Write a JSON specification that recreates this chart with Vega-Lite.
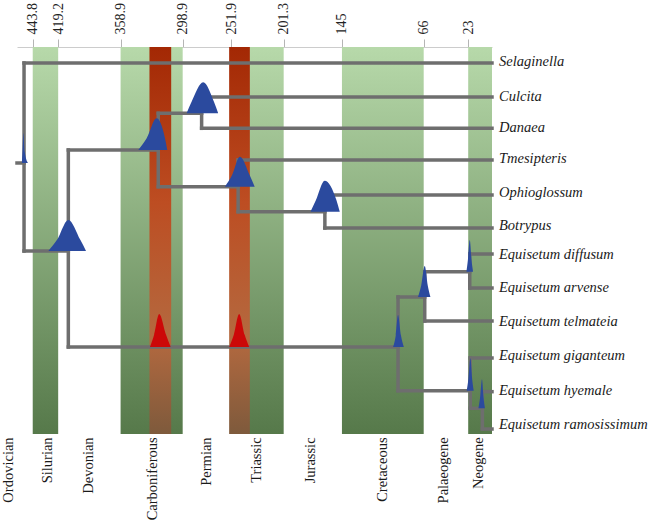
{
  "$schema": "https://vega.github.io/schema/vega-lite/v6.json",
  "autosize": "none",
  "width": 475,
  "height": 387,
  "padding": {"left": 17, "top": 47, "right": 160, "bottom": 89},
  "background": "white",
  "config": {"view": {"stroke": null}},
  "datasets": {
    "bands": [
      {"x": 443.8, "x2": 419.2},
      {"x": 358.9, "x2": 298.9},
      {"x": 251.9, "x2": 201.3},
      {"x": 145, "x2": 66},
      {"x": 23, "x2": 0}
    ],
    "periodLabels": [
      {"name": "Ordovician", "x": 466.4},
      {"name": "Silurian", "x": 429.3},
      {"name": "Devonian", "x": 389.1},
      {"name": "Carboniferous", "x": 327.3},
      {"name": "Permian", "x": 275.7},
      {"name": "Triassic", "x": 227.1},
      {"name": "Jurassic", "x": 175.2},
      {"name": "Cretaceous", "x": 105.1},
      {"name": "Palaeogene", "x": 46.4},
      {"name": "Neogene", "x": 12.6}
    ],
    "events": [
      {"x": 331, "x2": 310},
      {"x": 254, "x2": 234}
    ],
    "branches": [
      {"x": 459, "x2": 452.2, "y": 4.015, "y2": 4.015},
      {"x": 452.2, "x2": 0, "y": 0.985, "y2": 0.985},
      {"x": 452.2, "x2": 409.4, "y": 6.682, "y2": 6.682},
      {"x": 409.4, "x2": 322.5, "y": 3.621, "y2": 3.621},
      {"x": 409.4, "x2": 90.8, "y": 9.591, "y2": 9.591},
      {"x": 322.5, "x2": 280.6, "y": 2.509, "y2": 2.509},
      {"x": 280.6, "x2": 0, "y": 2.015, "y2": 2.015},
      {"x": 280.6, "x2": 0, "y": 2.964, "y2": 2.964},
      {"x": 322.5, "x2": 245.3, "y": 4.733, "y2": 4.733},
      {"x": 245.3, "x2": 0, "y": 3.924, "y2": 3.924},
      {"x": 245.3, "x2": 161.5, "y": 5.491, "y2": 5.491},
      {"x": 161.5, "x2": 0, "y": 4.985, "y2": 4.985},
      {"x": 161.5, "x2": 0, "y": 5.985, "y2": 5.985},
      {"x": 90.8, "x2": 65, "y": 8.076, "y2": 8.076},
      {"x": 65, "x2": 21.5, "y": 7.309, "y2": 7.309},
      {"x": 21.5, "x2": 0, "y": 6.773, "y2": 6.773},
      {"x": 21.5, "x2": 0, "y": 7.803, "y2": 7.803},
      {"x": 65, "x2": 0, "y": 8.803, "y2": 8.803},
      {"x": 90.8, "x2": 21, "y": 10.915, "y2": 10.915},
      {"x": 21, "x2": 0, "y": 9.924, "y2": 9.924},
      {"x": 21, "x2": 9.3, "y": 11.448, "y2": 11.448},
      {"x": 9.3, "x2": 0, "y": 10.945, "y2": 10.945},
      {"x": 9.3, "x2": 0, "y": 12.076, "y2": 12.076},
      {"x": 452.2, "x2": 452.2, "y": 0.985, "y2": 6.682},
      {"x": 409.4, "x2": 409.4, "y": 3.621, "y2": 9.591},
      {"x": 322.5, "x2": 322.5, "y": 2.509, "y2": 4.733},
      {"x": 280.6, "x2": 280.6, "y": 2.015, "y2": 2.964},
      {"x": 245.3, "x2": 245.3, "y": 3.924, "y2": 5.491},
      {"x": 161.5, "x2": 161.5, "y": 4.985, "y2": 5.985},
      {"x": 90.8, "x2": 90.8, "y": 8.076, "y2": 10.915},
      {"x": 65, "x2": 65, "y": 7.309, "y2": 8.803},
      {"x": 21.5, "x2": 21.5, "y": 6.773, "y2": 7.803},
      {"x": 21, "x2": 21, "y": 9.924, "y2": 11.448},
      {"x": 9.3, "x2": 9.3, "y": 10.945, "y2": 12.076}
    ],
    "densities": [
      {"id": "root", "kind": "age", "x": 454.3, "y": 4.015, "base": 4.015},
      {"id": "root", "kind": "age", "x": 453.6, "y": 3.6, "base": 4.015},
      {"id": "root", "kind": "age", "x": 452.9, "y": 3.106, "base": 4.015},
      {"id": "root", "kind": "age", "x": 451.5, "y": 3.68, "base": 4.015},
      {"id": "root", "kind": "age", "x": 448.4, "y": 4.015, "base": 4.015},
      {"id": "A", "kind": "age", "x": 428.7, "y": 6.682, "base": 6.682},
      {"id": "A", "kind": "age", "x": 420.5, "y": 6.352, "base": 6.682},
      {"id": "A", "kind": "age", "x": 409.4, "y": 5.74, "base": 6.682},
      {"id": "A", "kind": "age", "x": 397.7, "y": 6.352, "base": 6.682},
      {"id": "A", "kind": "age", "x": 392.3, "y": 6.682, "base": 6.682},
      {"id": "fern", "kind": "age", "x": 341.8, "y": 3.621, "base": 3.621},
      {"id": "fern", "kind": "age", "x": 333.7, "y": 3.265, "base": 3.621},
      {"id": "fern", "kind": "age", "x": 324.1, "y": 2.66, "base": 3.621},
      {"id": "fern", "kind": "age", "x": 316, "y": 3.265, "base": 3.621},
      {"id": "fern", "kind": "age", "x": 313.8, "y": 3.621, "base": 3.621},
      {"id": "CD", "kind": "age", "x": 295.1, "y": 2.509, "base": 2.509},
      {"id": "CD", "kind": "age", "x": 290.3, "y": 2.162, "base": 2.509},
      {"id": "CD", "kind": "age", "x": 279.1, "y": 1.57, "base": 2.509},
      {"id": "CD", "kind": "age", "x": 268.7, "y": 2.162, "base": 2.509},
      {"id": "CD", "kind": "age", "x": 264.6, "y": 2.509, "base": 2.509},
      {"id": "T", "kind": "age", "x": 258.1, "y": 4.733, "base": 4.733},
      {"id": "T", "kind": "age", "x": 251.4, "y": 4.397, "base": 4.733},
      {"id": "T", "kind": "age", "x": 243.6, "y": 3.824, "base": 4.733},
      {"id": "T", "kind": "age", "x": 234, "y": 4.397, "base": 4.733},
      {"id": "T", "kind": "age", "x": 229.3, "y": 4.733, "base": 4.733},
      {"id": "OB", "kind": "age", "x": 175.4, "y": 5.491, "base": 5.491},
      {"id": "OB", "kind": "age", "x": 170.2, "y": 5.143, "base": 5.491},
      {"id": "OB", "kind": "age", "x": 161.7, "y": 4.55, "base": 5.491},
      {"id": "OB", "kind": "age", "x": 150.3, "y": 5.143, "base": 5.491},
      {"id": "OB", "kind": "age", "x": 147.1, "y": 5.491, "base": 5.491},
      {"id": "Q", "kind": "age", "x": 95.6, "y": 9.591, "base": 9.591},
      {"id": "Q", "kind": "age", "x": 93, "y": 9.232, "base": 9.591},
      {"id": "Q", "kind": "age", "x": 90.8, "y": 8.62, "base": 9.591},
      {"id": "Q", "kind": "age", "x": 88, "y": 9.232, "base": 9.591},
      {"id": "Q", "kind": "age", "x": 85.2, "y": 9.591, "base": 9.591},
      {"id": "D", "kind": "age", "x": 71.5, "y": 8.076, "base": 8.076},
      {"id": "D", "kind": "age", "x": 68.4, "y": 7.728, "base": 8.076},
      {"id": "D", "kind": "age", "x": 65, "y": 7.136, "base": 8.076},
      {"id": "D", "kind": "age", "x": 62.1, "y": 7.728, "base": 8.076},
      {"id": "D", "kind": "age", "x": 59.5, "y": 8.076, "base": 8.076},
      {"id": "E", "kind": "age", "x": 24.7, "y": 7.309, "base": 7.309},
      {"id": "E", "kind": "age", "x": 23.3, "y": 6.954, "base": 7.309},
      {"id": "E", "kind": "age", "x": 21.5, "y": 6.35, "base": 7.309},
      {"id": "E", "kind": "age", "x": 19.8, "y": 6.954, "base": 7.309},
      {"id": "E", "kind": "age", "x": 18.3, "y": 7.309, "base": 7.309},
      {"id": "F", "kind": "age", "x": 24.4, "y": 10.915, "base": 10.915},
      {"id": "F", "kind": "age", "x": 22.8, "y": 10.55, "base": 10.915},
      {"id": "F", "kind": "age", "x": 20.9, "y": 9.93, "base": 10.915},
      {"id": "F", "kind": "age", "x": 19.2, "y": 10.55, "base": 10.915},
      {"id": "F", "kind": "age", "x": 17.7, "y": 10.915, "base": 10.915},
      {"id": "G", "kind": "age", "x": 13.1, "y": 11.448, "base": 11.448},
      {"id": "G", "kind": "age", "x": 11.5, "y": 11.123, "base": 11.448},
      {"id": "G", "kind": "age", "x": 9.7, "y": 10.57, "base": 11.448},
      {"id": "G", "kind": "age", "x": 8.2, "y": 11.123, "base": 11.448},
      {"id": "G", "kind": "age", "x": 6.8, "y": 11.448, "base": 11.448},
      {"id": "R1", "kind": "event", "x": 330.5, "y": 9.591, "base": 9.591},
      {"id": "R1", "kind": "event", "x": 326.5, "y": 9.221, "base": 9.591},
      {"id": "R1", "kind": "event", "x": 321.6, "y": 8.59, "base": 9.591},
      {"id": "R1", "kind": "event", "x": 315, "y": 9.221, "base": 9.591},
      {"id": "R1", "kind": "event", "x": 310.5, "y": 9.591, "base": 9.591},
      {"id": "R2", "kind": "event", "x": 254, "y": 9.591, "base": 9.591},
      {"id": "R2", "kind": "event", "x": 249.5, "y": 9.221, "base": 9.591},
      {"id": "R2", "kind": "event", "x": 244.3, "y": 8.59, "base": 9.591},
      {"id": "R2", "kind": "event", "x": 239, "y": 9.221, "base": 9.591},
      {"id": "R2", "kind": "event", "x": 234.6, "y": 9.591, "base": 9.591}
    ],
    "tips": [
      {"name": "Selaginella", "x": 0, "y": 0.955},
      {"name": "Culcita", "x": 0, "y": 2.015},
      {"name": "Danaea", "x": 0, "y": 2.955},
      {"name": "Tmesipteris", "x": 0, "y": 3.894},
      {"name": "Ophioglossum", "x": 0, "y": 4.924},
      {"name": "Botrypus", "x": 0, "y": 5.924},
      {"name": "Equisetum diffusum", "x": 0, "y": 6.803},
      {"name": "Equisetum arvense", "x": 0, "y": 7.803},
      {"name": "Equisetum telmateia", "x": 0, "y": 8.833},
      {"name": "Equisetum giganteum", "x": 0, "y": 9.864},
      {"name": "Equisetum hyemale", "x": 0, "y": 10.924},
      {"name": "Equisetum ramosissimum", "x": 0, "y": 11.955}
    ]
  },
  "encoding": {
    "x": {
      "field": "x", "type": "quantitative",
      "scale": {"domain": [0, 459], "reverse": true, "nice": false, "zero": false},
      "axis": {
        "orient": "top", "title": null, "grid": false,
        "values": [443.8, 419.2, 358.9, 298.9, 251.9, 201.3, 145, 66, 23],
        "labelExpr": "'' + datum.value",
        "labelAngle": -90, "labelAlign": "left", "labelBaseline": "middle",
        "labelFont": "Liberation Serif", "labelFontSize": 14, "labelColor": "#222222",
        "labelPadding": 5, "labelFlush": false, "labelOverlap": false,
        "tickSize": 8, "tickColor": "#b5b5b5", "tickWidth": 1,
        "domainColor": "#cccccc", "domainWidth": 1
      }
    }
  },
  "layer": [
    {
      "data": {"name": "bands"},
      "mark": {
        "type": "rect",
        "color": {
          "gradient": "linear", "x1": 0, "y1": 0, "x2": 0, "y2": 1,
          "stops": [
            {"offset": 0, "color": "#b7d9aa"},
            {"offset": 1, "color": "#56794a"}
          ]
        }
      },
      "encoding": {
        "x2": {"field": "x2"}
      }
    },
    {
      "data": {"name": "events"},
      "mark": {
        "type": "rect",
        "color": {
          "gradient": "linear", "x1": 0, "y1": 0, "x2": 0, "y2": 1,
          "stops": [
            {"offset": 0, "color": "#a32804"},
            {"offset": 0.4, "color": "#bd4d22"},
            {"offset": 0.75, "color": "#b4693f"},
            {"offset": 1, "color": "#7e5a3c"}
          ]
        }
      },
      "encoding": {
        "x2": {"field": "x2"}
      }
    },
    {
      "data": {"name": "branches"},
      "mark": {"type": "rule", "color": "#6e6e6e", "strokeWidth": 3.5, "strokeCap": "square"},
      "encoding": {
        "x2": {"field": "x2"},
        "y": {"field": "y", "type": "quantitative", "axis": null,
          "scale": {"domain": [0.5, 12.227], "reverse": true, "nice": false, "zero": false}},
        "y2": {"field": "y2"}
      }
    },
    {
      "data": {"name": "densities"},
      "mark": {"type": "area", "interpolate": "monotone"},
      "encoding": {
        "y": {"field": "y", "type": "quantitative", "axis": null},
        "y2": {"field": "base"},
        "detail": {"field": "id"},
        "color": {"field": "kind", "type": "nominal", "legend": null,
          "scale": {"domain": ["age", "event"], "range": ["#2b4a9e", "#cc0808"]}}
      }
    },
    {
      "data": {"name": "tips"},
      "mark": {"type": "text", "align": "left", "baseline": "middle", "dx": 7,
        "font": "Liberation Serif", "fontStyle": "italic", "fontSize": 14.5, "color": "#1a1a1a"},
      "encoding": {
        "y": {"field": "y", "type": "quantitative", "axis": null},
        "text": {"field": "name"}
      }
    },
    {
      "data": {"name": "periodLabels"},
      "mark": {"type": "text", "angle": 270, "align": "right", "baseline": "middle",
        "font": "Liberation Serif", "fontSize": 14.5, "color": "#1a1a1a"},
      "encoding": {
        "y": {"datum": 12.33, "type": "quantitative", "axis": null},
        "text": {"field": "name"}
      }
    }
  ]
}
